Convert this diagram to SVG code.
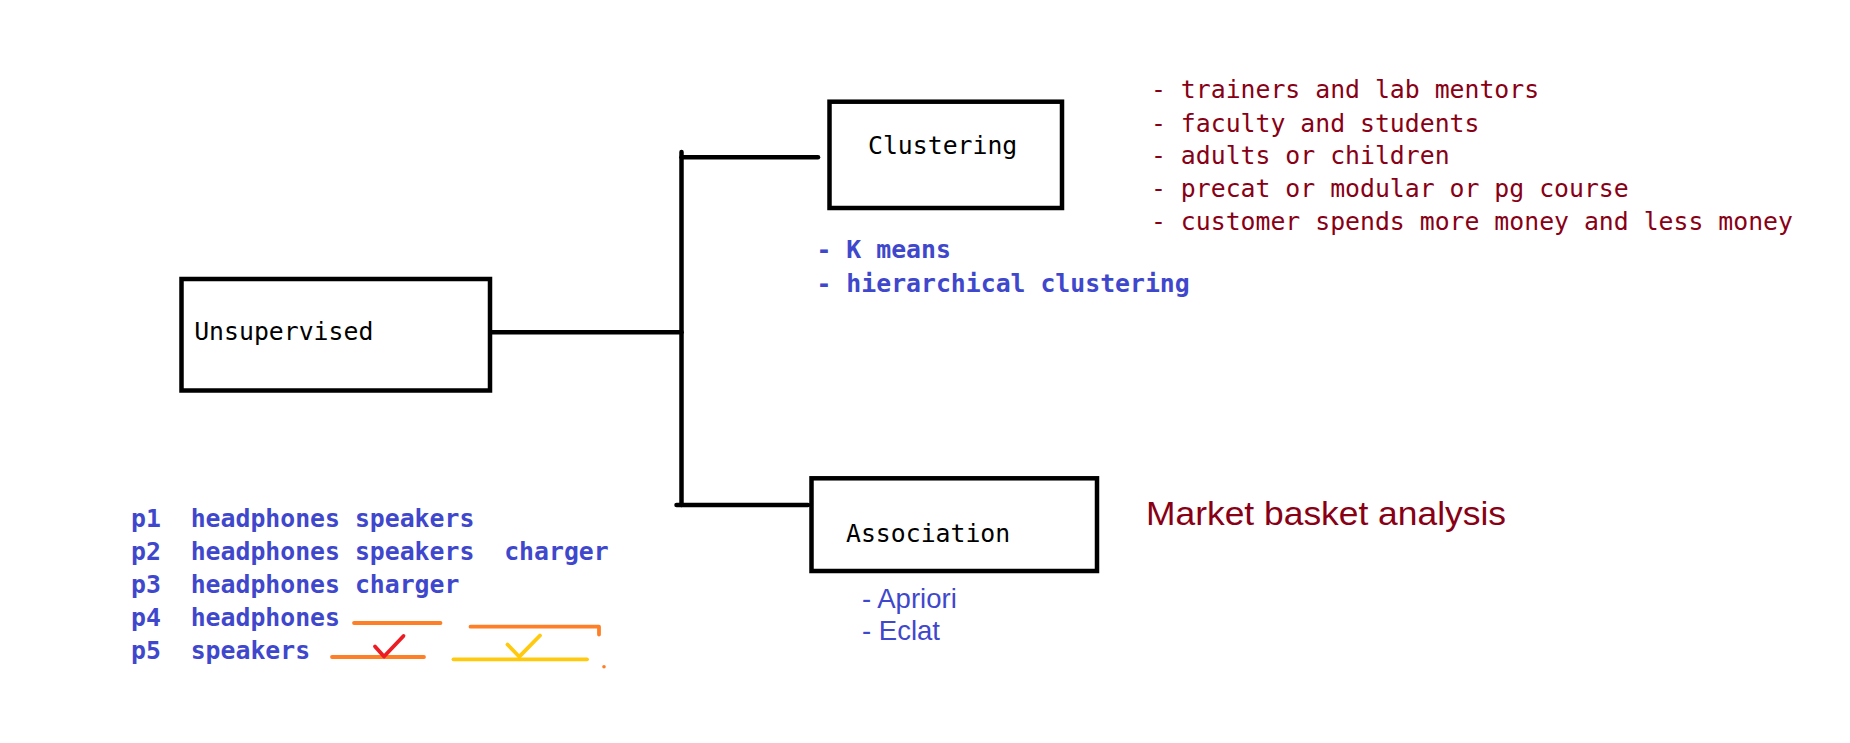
<svg xmlns="http://www.w3.org/2000/svg" width="1850" height="743" viewBox="0 0 1850 743">
<style>
.box{fill:#fff;stroke:#000;stroke-width:4.5}
.lbl{font-family:"DejaVu Sans Mono","Liberation Mono",monospace;font-size:24.8px;fill:#000}
.mono{font-family:"DejaVu Sans Mono","Liberation Mono",monospace;font-size:24.8px}
.blueb{fill:#3f48cc;font-weight:bold}
.red{fill:#880015}
.sans{font-family:"Liberation Sans",Arial,sans-serif}
.conn{stroke:#000;stroke-width:4.5;fill:none;stroke-linecap:round}
.mark{fill:none;stroke-width:3.8;stroke-linecap:round;stroke-linejoin:round}
</style>
<rect width="1850" height="743" fill="#fff"/>
<g id="connectors">
<path class="conn" d="M492 332.3H681.5"/>
<path class="conn" d="M681.5 152V505"/>
<path class="conn" d="M681.5 157.3H818"/>
<path class="conn" d="M676.5 505H808"/>
</g>
<g id="unsupervised">
<rect class="box" x="181.5" y="279" width="308.5" height="111.5"/>
<text class="lbl" x="194.2" y="340">Unsupervised</text>
</g>
<g id="clustering">
<rect class="box" x="829.5" y="101.7" width="232.5" height="106.3"/>
<text class="lbl" x="868" y="154">Clustering</text>
</g>
<g id="association">
<rect class="box" x="811.5" y="478.3" width="285.5" height="92.7"/>
<text class="lbl" x="846" y="541.7">Association</text>
</g>
<g id="clustering-algos" class="mono blueb">
<text x="816.5" y="258.3">- K means</text>
<text x="816.5" y="291.7">- hierarchical clustering</text>
</g>
<g id="clustering-examples" class="mono red">
<text x="1151" y="98.3">- trainers and lab mentors</text>
<text x="1151" y="131.5">- faculty and students</text>
<text x="1151" y="164.3">- adults or children</text>
<text x="1151" y="197.2">- precat or modular or pg course</text>
<text x="1151" y="230">- customer spends more money and less money</text>
</g>
<g id="association-algos" class="sans" style="font-size:27.5px;fill:#3f48cc">
<text x="862" y="608.3">- Apriori</text>
<text x="862" y="640">- Eclat</text>
</g>
<g id="market-basket">
<text class="sans red" x="1146" y="525" style="font-size:34px" textLength="360" lengthAdjust="spacingAndGlyphs">Market basket analysis</text>
</g>
<g id="transactions" class="mono blueb">
<text x="131" y="526.7">p1<tspan x="190.7">headphones speakers</tspan></text>
<text x="131" y="559.8">p2<tspan x="190.7">headphones speakers</tspan><tspan x="504.2">charger</tspan></text>
<text x="131" y="592.7">p3<tspan x="190.7">headphones charger</tspan></text>
<text x="131" y="625.8">p4<tspan x="190.7">headphones</tspan></text>
<text x="131" y="658.5">p5<tspan x="190.7">speakers</tspan></text>
</g>
<g id="marks">
<path class="mark" stroke="#ff7f27" d="M354 623H440.5"/>
<path class="mark" stroke="#ff7f27" d="M470.5 626.7H599V634.5"/>
<path class="mark" stroke="#ff7f27" d="M332 657H424"/>
<path class="mark" stroke="#ed1c24" stroke-width="4.2" d="M375 646.5L384 656.5L403.5 636"/>
<path class="mark" stroke="#ffc90e" stroke-width="4.4" d="M453.5 659.3H587"/>
<path class="mark" stroke="#ffc90e" d="M507.5 644.5L519.3 656.7L540 635.5"/>
<circle cx="604" cy="666.7" r="1.8" fill="#ff7f27"/>
</g>
</svg>
